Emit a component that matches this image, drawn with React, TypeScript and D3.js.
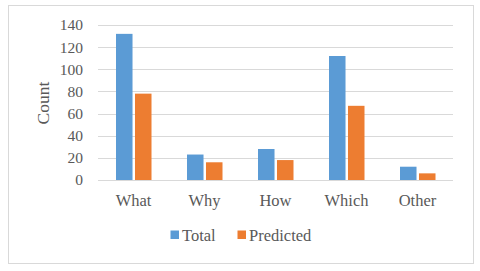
import React, { useEffect, useRef } from "react";
import * as d3 from "d3";

const categories = ["What", "Why", "How", "Which", "Other"];
const totalValues = [132, 23, 28, 112, 12];
const predictedValues = [78, 16, 18, 67, 6];
const yTicks = [0, 20, 40, 60, 80, 100, 120, 140];
const seriesNames = ["Total", "Predicted"];
const seriesColors = ["#5B9BD5", "#ED7D31"];

const W = 480;
const H = 271;

const App = () => {
  const ref = useRef<SVGSVGElement>(null);

  useEffect(() => {
    const svg = d3.select(ref.current);
    svg.selectAll("*").remove();

    const font = "'Liberation Serif', 'Times New Roman', serif";
    const textColor = "#595959";

    // chart frame
    svg.append("rect")
      .attr("x", 8.5).attr("y", 5.5)
      .attr("width", 465).attr("height", 258)
      .attr("fill", "#fff")
      .attr("stroke", "#D9D9D9");

    const left = 98, right = 453, top = 25, bottom = 180;

    const x = d3.scaleBand().domain(categories).range([left, right]);
    const y = d3.scaleLinear().domain([0, 140]).range([bottom, top]);
    const x1 = d3.scaleBand().domain(seriesNames).range([0, 35.5]).paddingInner(0.13);

    // gridlines
    svg.append("g")
      .selectAll("line")
      .data(yTicks)
      .join("line")
      .attr("x1", left).attr("x2", right)
      .attr("y1", d => Math.round(y(d)) + 0.5)
      .attr("y2", d => Math.round(y(d)) + 0.5)
      .attr("stroke", "#D9D9D9")
      .attr("stroke-width", 1);

    // y tick labels
    svg.append("g")
      .selectAll("text")
      .data(yTicks)
      .join("text")
      .attr("x", 83)
      .attr("y", d => y(d))
      .attr("dy", "0.35em")
      .attr("text-anchor", "end")
      .attr("font-family", font)
      .attr("font-size", 15.5)
      .attr("fill", textColor)
      .text(d => d);

    // bars
    const series = [totalValues, predictedValues];
    const groups = svg.append("g")
      .selectAll("g")
      .data(categories)
      .join("g")
      .attr("transform", c => `translate(${x(c)! + x.bandwidth() / 2 - 17.5},0)`);

    groups.selectAll("rect")
      .data((c, i) => seriesNames.map((s, k) => ({ s, v: series[k][i], k })))
      .join("rect")
      .attr("x", d => x1(d.s)!)
      .attr("width", x1.bandwidth())
      .attr("y", d => y(d.v))
      .attr("height", d => bottom - y(d.v))
      .attr("fill", d => seriesColors[d.k]);

    // category labels
    svg.append("g")
      .selectAll("text")
      .data(categories)
      .join("text")
      .attr("x", c => x(c)! + x.bandwidth() / 2)
      .attr("y", 200.5)
      .attr("dy", "0.35em")
      .attr("text-anchor", "middle")
      .attr("font-family", font)
      .attr("font-size", 16.5)
      .attr("fill", textColor)
      .text(c => c);

    // y axis title
    svg.append("text")
      .attr("transform", `translate(43,103) rotate(-90)`)
      .attr("dy", "0.35em")
      .attr("text-anchor", "middle")
      .attr("font-family", font)
      .attr("font-size", 17.5)
      .attr("fill", textColor)
      .text("Count");

    // legend
    const legendX = [170.5, 237.5];
    const legend = svg.append("g")
      .selectAll("g")
      .data(seriesNames)
      .join("g")
      .attr("transform", (d, i) => `translate(${legendX[i]},235)`);
    legend.append("rect")
      .attr("x", 0).attr("y", -4.5)
      .attr("width", 8.5).attr("height", 8.5)
      .attr("fill", (d, i) => seriesColors[i]);
    legend.append("text")
      .attr("x", 11.5)
      .attr("dy", "0.35em")
      .attr("font-family", font)
      .attr("font-size", 16.5)
      .attr("fill", textColor)
      .text(d => d);
  }, []);

  return (
    <svg ref={ref} width={W} height={H} style={{ position: "absolute", left: 0, top: 0 }} />
  );
};

export default App;
